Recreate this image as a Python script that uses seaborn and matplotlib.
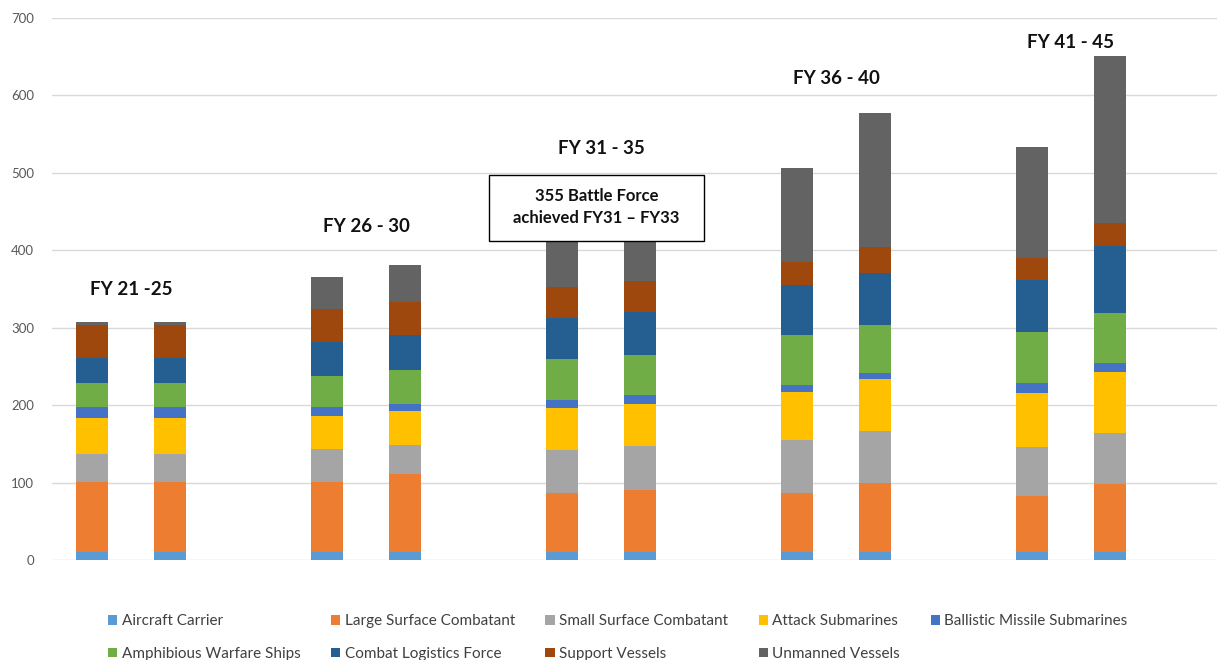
import matplotlib
matplotlib.use("Agg")
import matplotlib.pyplot as plt
from matplotlib.patches import Patch, Rectangle
import numpy as np
import pandas as pd
import seaborn as sns

# Five-year periods, each shown with two alternative force-structure bars
periods = ["FY 21 -25", "FY 26 - 30", "FY 31 - 35", "FY 36 - 40", "FY 41 - 45"]
options = ["A", "B"]

ship_types = [
    "Aircraft Carrier",
    "Large Surface Combatant",
    "Small Surface Combatant",
    "Attack Submarines",
    "Ballistic Missile Submarines",
    "Amphibious Warfare Ships",
    "Combat Logistics Force",
    "Support Vessels",
    "Unmanned Vessels",
]

# Ship counts per bar (period order, two bars per period)
aircraft_carrier = [10, 10, 10, 10, 10, 10, 10, 10, 10, 10]
large_surface_combatant = [91, 91, 91, 101, 77, 80, 76, 89, 73, 88]
small_surface_combatant = [36, 36, 42, 38, 55, 57, 69, 67, 63, 66]
attack_submarines = [47, 47, 43, 43, 54, 55, 62, 68, 70, 79]
ballistic_missile_submarines = [14, 14, 11, 10, 11, 11, 9, 8, 12, 11]
amphibious_warfare_ships = [30, 30, 41, 43, 52, 52, 65, 62, 66, 65]
combat_logistics_force = [33, 33, 44, 46, 54, 55, 64, 67, 67, 86]
support_vessels = [42, 42, 42, 42, 39, 40, 30, 33, 29, 30]
unmanned_vessels = [4, 4, 42, 48, 65, 75, 121, 173, 143, 216]

colors = ["#5B9BD5", "#ED7D31", "#A5A5A5", "#FFC000", "#4472C4",
          "#70AD47", "#255E91", "#9E480E", "#636363"]

df = pd.DataFrame({
    "period": np.repeat(periods, len(options)),
    "option": options * len(periods),
})
for name, vals in zip(ship_types, [
        aircraft_carrier, large_surface_combatant, small_surface_combatant,
        attack_submarines, ballistic_missile_submarines, amphibious_warfare_ships,
        combat_logistics_force, support_vessels, unmanned_vessels]):
    df[name] = vals

# cumulative tops for stacking
cum = df[ship_types].cumsum(axis=1)
for name in ship_types:
    df["top_" + name] = cum[name]

sns.set_theme(style="white")
plt.rcParams["font.family"] = ["Lato", "DejaVu Sans"]

W, H = 1217, 660
fig = plt.figure(figsize=(W / 100, H / 100), dpi=100)
ax = fig.add_axes([52 / W, 100 / H, (W - 52) / W, 542 / H])

# draw from the tallest cumulative layer down so each segment shows its own colour
for name, col in reversed(list(zip(ship_types, colors))):
    sns.barplot(data=df, x="period", y="top_" + name, hue="option",
                order=periods, hue_order=options, palette=[col, col],
                width=0.664, gap=0.59, errorbar=None, legend=False,
                saturation=1, linewidth=0, ax=ax)

ax.set_xlim((52 - 131) / 235, (W - 131) / 235)
ax.set_ylim(0, 700)
ax.set_yticks(np.arange(0, 701, 100))
ax.set_xticks([])
ax.set_xlabel("")
ax.set_ylabel("")
ax.set_axisbelow(True)
ax.yaxis.grid(True, color="#D9D9D9", linewidth=1)
for s in ax.spines.values():
    s.set_visible(False)
ax.tick_params(axis="y", length=0, pad=13, labelsize=9.5, labelcolor="#595959")

# period headings above each pair of bars
title_y = [349, 431, 532, 622, 668]
for i, (lab, ty) in enumerate(zip(periods, title_y)):
    ax.text(i, ty, lab, ha="center", va="center", fontsize=13.5,
            fontweight="bold", color="#111111")

# callout box
box = Rectangle((1.523, 412), 2.438 - 1.523, 497 - 412, facecolor="white",
                edgecolor="black", linewidth=1, zorder=5)
ax.add_patch(box)
ax.text((1.523 + 2.438) / 2, (412 + 497) / 2 + 1,
        "355 Battle Force\nachieved FY31 \u2013 FY33", ha="center", va="center",
        fontsize=12, fontweight="bold", linespacing=1.45, zorder=6,
        color="#111111")

# legend, laid out row-wise in five columns
handles = [Patch(facecolor=c, edgecolor="none", label=n)
           for n, c in zip(ship_types, colors)]
ncol = 5
order = [0, 5, 1, 6, 2, 7, 3, 8, 4]
leg = fig.legend([handles[k] for k in order], [ship_types[k] for k in order],
                 loc="lower left", bbox_to_anchor=(94 / W, -0.022), ncol=ncol,
                 frameon=False, fontsize=11, handlelength=0.6,
                 handleheight=0.6, handletextpad=0.3, columnspacing=2.0,
                 labelspacing=1.2, labelcolor="#404040")

fig.savefig("out.png", dpi=100)
